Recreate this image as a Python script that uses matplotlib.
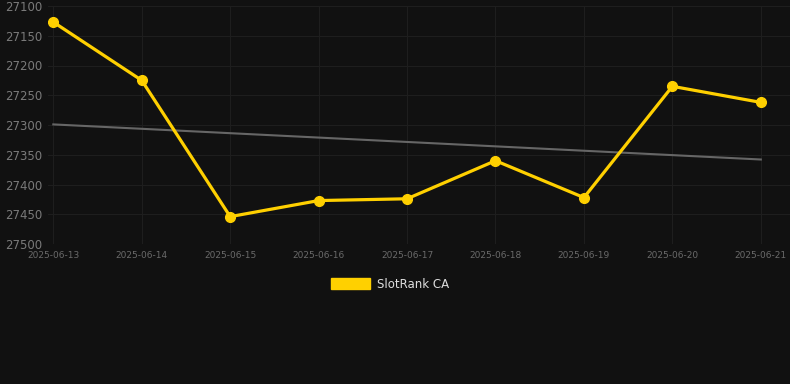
import numpy as np
import pandas as pd
import matplotlib
matplotlib.use("Agg")
import matplotlib.pyplot as plt
from matplotlib.patches import Patch

dates = ["2025-06-13", "2025-06-14", "2025-06-15", "2025-06-16", "2025-06-17",
         "2025-06-18", "2025-06-19", "2025-06-20", "2025-06-21"]
rank = [27127, 27225, 27454, 27427, 27424, 27360, 27422, 27235, 27262]
trend_start = 27299
trend_end = 27358
yticks = [27100, 27150, 27200, 27250, 27300, 27350, 27400, 27450, 27500]

bg = "#111111"
fig = plt.figure(figsize=(7.9, 3.84), dpi=100, facecolor=bg)
ax = fig.add_axes([48 / 790, 140 / 384, 742 / 790, 238 / 384], facecolor=bg)

x = np.arange(len(dates))
ax.plot([x[0], x[-1]], [trend_start, trend_end], color="#666666", lw=1.5, zorder=2)
ax.plot(x, rank, color="#FFD000", lw=2.3, marker="o", ms=7, zorder=3)

ax.set_ylim(27500, 27100)
ax.set_xlim(-0.06, 8.33)
ax.set_yticks(yticks)
ax.set_xticks(x)
ax.set_xticklabels(dates)
ax.grid(True, color="#1e1e1e", lw=0.8)
ax.set_axisbelow(True)
for s in ax.spines.values():
    s.set_visible(False)
ax.tick_params(axis="y", colors="#7a7a7a", labelsize=8.5, length=0, pad=4)
ax.tick_params(axis="x", colors="#6a6a6a", labelsize=6.5, length=0, pad=5)

handle = Patch(facecolor="#FFD000", edgecolor="#FFD000")
fig.legend([handle], ["SlotRank CA"], loc="center", bbox_to_anchor=(390 / 790, 1 - 284 / 384),
           frameon=False, fontsize=8.5, labelcolor="#dddddd", handlelength=3.3,
           handleheight=1.0, handletextpad=0.6)

fig.savefig("out.png", dpi=100, facecolor=bg)
